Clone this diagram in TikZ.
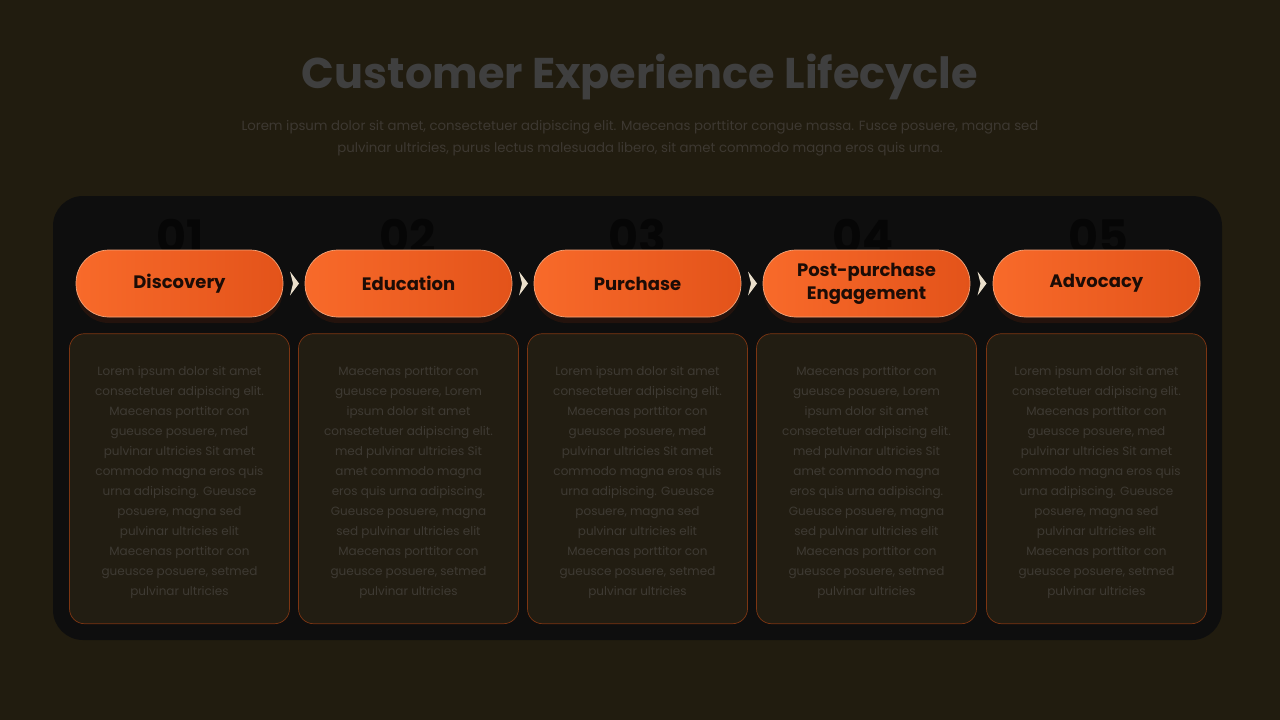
\documentclass[tikz,border=0pt]{standalone}
\usepackage{fontspec}
\setmainfont{Poppins}
\usetikzlibrary{positioning,calc,shadows}

\definecolor{bgcol}{HTML}{211C0F}
\definecolor{panelcol}{HTML}{0E0E0E}
\definecolor{cardcol}{HTML}{221D12}
\definecolor{cardline}{HTML}{7C3512}
\definecolor{pillA}{HTML}{F86A2A}
\definecolor{pillB}{HTML}{E3531A}
\definecolor{pillline}{HTML}{F2A47A}
\definecolor{titlecol}{HTML}{3F3F3F}
\definecolor{subcol}{HTML}{3D3831}
\definecolor{bodycol}{HTML}{3E3A33}
\definecolor{numcol}{HTML}{060606}
\definecolor{chevcol}{HTML}{EADFCB}
\definecolor{labelcol}{HTML}{1C0C06}

\newcommand{\txtLorem}{Lorem ipsum dolor sit amet\\consectetuer adipiscing elit.\\Maecenas porttitor con\\gueusce posuere, med\\pulvinar ultricies Sit amet\\commodo magna eros quis\\urna adipiscing. Gueusce\\posuere, magna sed\\pulvinar ultricies elit\\Maecenas porttitor con\\gueusce posuere, setmed\\pulvinar ultricies}
\newcommand{\txtMaec}{Maecenas porttitor con\\gueusce posuere, Lorem\\ipsum dolor sit amet\\consectetuer adipiscing elit.\\med pulvinar ultricies Sit\\amet commodo magna\\eros quis urna adipiscing.\\Gueusce posuere, magna\\sed pulvinar ultricies elit\\Maecenas porttitor con\\gueusce posuere, setmed\\pulvinar ultricies}

\tikzset{
    pill/.style={rectangle, rounded corners=33pt, minimum width=207pt, minimum height=67pt, inner sep=0pt,
        draw=pillline, line width=0.7pt, left color=pillA, right color=pillB,
        drop shadow={shadow xshift=0pt, shadow yshift=-6pt, opacity=0.25, fill=pillB!45!black},
        text=labelcol, align=center, font=\fontsize{18}{23}\selectfont\bfseries},
    card/.style={rectangle, rounded corners=15pt, minimum width=220pt, minimum height=290pt,
        draw=cardline, line width=0.7pt, fill=cardcol},
    cardtext/.style={text=bodycol, align=center, font=\fontsize{12}{20}\selectfont},
    stepnum/.style={text=numcol, font=\fontsize{46}{46}\selectfont\bfseries},
    chev/.style={fill=chevcol},
}

\begin{document}
\begin{tikzpicture}[x=1pt, y=-1pt]
    \fill[bgcol] (0, 0) rectangle (1280, 720);
    \useasboundingbox (0, 0) rectangle (1280, 720);

    % heading
    \node[text=titlecol, font=\fontsize{43}{50}\selectfont\bfseries] (title) at (640, 77) {Customer Experience Lifecycle};
    \node[text=subcol, font=\fontsize{13.3}{22}\selectfont, align=center] (sub) at (640, 138)
        {Lorem ipsum dolor sit amet, consectetuer adipiscing elit. Maecenas porttitor congue massa. Fusce posuere, magna sed\\pulvinar ultricies, purus lectus malesuada libero, sit amet commodo magna eros quis urna.};

    % dark panel
    \fill[panelcol, rounded corners=30pt] (53, 196) rectangle (1222, 640);

    % step numbers (behind the pills)
    \node[stepnum] (n1) at (180, 236) {01};
    \node[stepnum] (n2) at (408, 236) {02};
    \node[stepnum] (n3) at (637, 236) {03};
    \node[stepnum] (n4) at (863, 236) {04};
    \node[stepnum] (n5) at (1098, 236) {05};

    % pills
    \node[pill] (p1) at (179.5, 283.5) {Discovery};
    \node[pill] (p2) at (408.5, 283.5) {Education};
    \node[pill] (p3) at (637.5, 283.5) {Purchase};
    \node[pill] (p4) at (866.5, 283.5) {Post-purchase\\Engagement};
    \node[pill] (p5) at (1096.5, 283.5) {Advocacy};

    % chevrons between pills
    \fill[chev] ($(p1.east)!0.5!(p2.west)$) ++(-4, -12) -- ++(9, 12) -- ++(-9, 12) -- ++(3, -12) -- cycle;
    \fill[chev] ($(p2.east)!0.5!(p3.west)$) ++(-4, -12) -- ++(9, 12) -- ++(-9, 12) -- ++(3, -12) -- cycle;
    \fill[chev] ($(p3.east)!0.5!(p4.west)$) ++(-4, -12) -- ++(9, 12) -- ++(-9, 12) -- ++(3, -12) -- cycle;
    \fill[chev] ($(p4.east)!0.5!(p5.west)$) ++(-4, -12) -- ++(9, 12) -- ++(-9, 12) -- ++(3, -12) -- cycle;

    % text cards
    \node[card, below=16pt of p1] (c1) {};
    \node[card, below=16pt of p2] (c2) {};
    \node[card, below=16pt of p3] (c3) {};
    \node[card, below=16pt of p4] (c4) {};
    \node[card, below=16pt of p5] (c5) {};
    \node[cardtext] (t1) at ([yshift=-4pt]c1.center) {\txtLorem};
    \node[cardtext] (t2) at ([yshift=-4pt]c2.center) {\txtMaec};
    \node[cardtext] (t3) at ([yshift=-4pt]c3.center) {\txtLorem};
    \node[cardtext] (t4) at ([yshift=-4pt]c4.center) {\txtMaec};
    \node[cardtext] (t5) at ([yshift=-4pt]c5.center) {\txtLorem};
\end{tikzpicture}
\end{document}
